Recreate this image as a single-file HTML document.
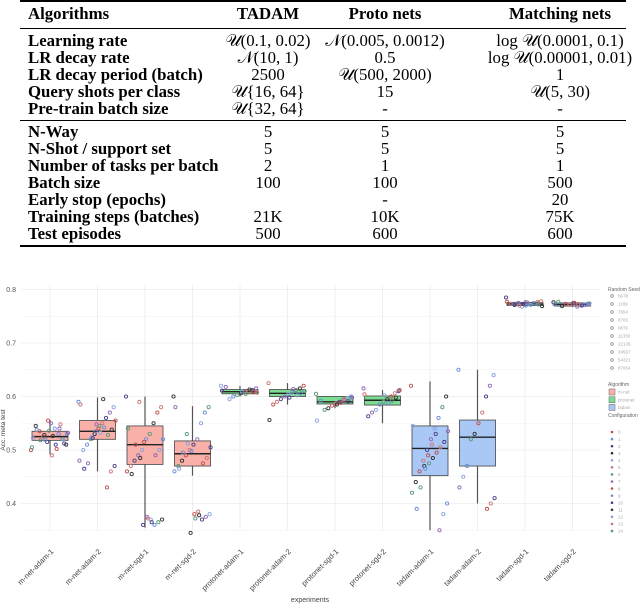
<!DOCTYPE html>
<html><head><meta charset="utf-8">
<style>
body{margin:0;width:640px;height:605px;background:#fff;position:relative;overflow:hidden;font-family:"Liberation Serif",serif}
.rule{position:absolute;left:20px;width:606px;background:#000}
.row{position:absolute;left:20px;width:606px;height:17px;font-size:16.8px;line-height:17px;color:#000}
.row span{position:absolute;white-space:nowrap}
.c0{left:8px;font-weight:bold}
.c1{left:248px;width:0;display:flex;justify-content:center}
.c2{left:365px;width:0;display:flex;justify-content:center}
.c3{left:540px;width:0;display:flex;justify-content:center}
.hd span{font-weight:bold}
svg{position:absolute;left:0;top:250px}
</style></head><body>
<div>
<div class="rule" style="top:0;height:2px"></div>
<div class="rule" style="top:28px;height:1px"></div>
<div class="rule" style="top:120px;height:1px"></div>
<div class="rule" style="top:245px;height:2px"></div>
<div class="row hd" style="top:5px"><span class="c0">Algorithms</span><span class="c1"><b>TADAM</b></span><span class="c2"><b>Proto nets</b></span><span class="c3"><b>Matching nets</b></span></div>
<div class="row" style="top:32px"><span class="c0">Learning rate</span><span class="c1">𝒰(0.1, 0.02)</span><span class="c2">𝒩(0.005, 0.0012)</span><span class="c3">log 𝒰(0.0001, 0.1)</span></div>
<div class="row" style="top:49px"><span class="c0">LR decay rate</span><span class="c1">𝒩(10, 1)</span><span class="c2">0.5</span><span class="c3">log 𝒰(0.00001, 0.01)</span></div>
<div class="row" style="top:66px"><span class="c0">LR decay period (batch)</span><span class="c1">2500</span><span class="c2">𝒰(500, 2000)</span><span class="c3">1</span></div>
<div class="row" style="top:83px"><span class="c0">Query shots per class</span><span class="c1">𝒰{16, 64}</span><span class="c2">15</span><span class="c3">𝒰(5, 30)</span></div>
<div class="row" style="top:100px"><span class="c0">Pre-train batch size</span><span class="c1">𝒰{32, 64}</span><span class="c2">-</span><span class="c3">-</span></div>
<div class="row" style="top:123px"><span class="c0">N-Way</span><span class="c1">5</span><span class="c2">5</span><span class="c3">5</span></div>
<div class="row" style="top:140px"><span class="c0">N-Shot / support set</span><span class="c1">5</span><span class="c2">5</span><span class="c3">5</span></div>
<div class="row" style="top:157px"><span class="c0">Number of tasks per batch</span><span class="c1">2</span><span class="c2">1</span><span class="c3">1</span></div>
<div class="row" style="top:174px"><span class="c0">Batch size</span><span class="c1">100</span><span class="c2">100</span><span class="c3">500</span></div>
<div class="row" style="top:191px"><span class="c0">Early stop (epochs)</span><span class="c1"></span><span class="c2">-</span><span class="c3">20</span></div>
<div class="row" style="top:208px"><span class="c0">Training steps (batches)</span><span class="c1">21K</span><span class="c2">10K</span><span class="c3">75K</span></div>
<div class="row" style="top:225px"><span class="c0">Test episodes</span><span class="c1">500</span><span class="c2">600</span><span class="c3">600</span></div>
</div>
<svg id="chart" width="640" height="355" viewBox="0 0 640 355" font-family="Liberation Sans, sans-serif"></svg>
<script>
const categories=["m-net-adam-1","m-net-adam-2","m-net-sgd-1","m-net-sgd-2","protonet-adam-1","protonet-adam-2","protonet-sgd-1","protonet-sgd-2","tadam-adam-1","tadam-adam-2","tadam-sgd-1","tadam-sgd-2"];
const algorithms=["m-net","m-net","m-net","m-net","protonet","protonet","protonet","protonet","tadam","tadam","tadam","tadam"];
const q1=[0.518,0.520,0.473,0.470,0.605,0.600,0.586,0.584,0.452,0.470,0.770,0.769];
const medians=[0.525,0.535,0.510,0.493,0.609,0.606,0.590,0.593,0.503,0.524,0.773,0.772];
const q3=[0.535,0.555,0.545,0.517,0.613,0.613,0.600,0.601,0.545,0.556,0.776,0.775];
const whiskLo=[0.492,0.460,0.355,0.452,0.600,0.585,0.578,0.550,0.350,0.400,0.768,0.767];
const whiskHi=[0.556,0.598,0.600,0.582,0.620,0.625,0.600,0.612,0.628,0.650,0.780,0.778];
const points=[
[0.50,0.51,0.52,0.53,0.54,0.55,0.515,0.525,0.535,0.545,0.505,0.53,0.52,0.54,0.51,0.49,0.555,0.528,0.518,0.538,0.522,0.532,0.512,0.548,0.502,0.526,0.536,0.519],
[0.59,0.58,0.57,0.56,0.55,0.54,0.53,0.52,0.51,0.50,0.48,0.47,0.46,0.43,0.595,0.545,0.535,0.525,0.475,0.465,0.585,0.555,0.538,0.528,0.542,0.532,0.548,0.522],
[0.60,0.58,0.57,0.55,0.53,0.52,0.50,0.49,0.48,0.47,0.46,0.37,0.365,0.36,0.37,0.375,0.36,0.59,0.51,0.455,0.54,0.52,0.50,0.49,0.365,0.372,0.515,0.485],
[0.60,0.58,0.57,0.55,0.52,0.51,0.50,0.49,0.48,0.47,0.46,0.38,0.375,0.37,0.385,0.38,0.345,0.53,0.495,0.465,0.58,0.505,0.485,0.475,0.378,0.372,0.498,0.512],
[0.620,0.615,0.612,0.610,0.608,0.606,0.603,0.600,0.595,0.618,0.611,0.607,0.609,0.613,0.605,0.61],
[0.625,0.620,0.615,0.612,0.608,0.604,0.600,0.595,0.590,0.585,0.556,0.610,0.606,0.602,0.614,0.598],
[0.605,0.600,0.597,0.594,0.590,0.587,0.583,0.578,0.575,0.592,0.555,0.598,0.591,0.595,0.588,0.585],
[0.615,0.610,0.606,0.600,0.595,0.590,0.585,0.575,0.570,0.563,0.604,0.612,0.598,0.592,0.588,0.602],
[0.62,0.60,0.58,0.56,0.54,0.52,0.50,0.48,0.46,0.44,0.42,0.40,0.38,0.35,0.53,0.51,0.49,0.47,0.43,0.39,0.545,0.535,0.515,0.505,0.495,0.485,0.475,0.465],
[0.65,0.64,0.62,0.60,0.57,0.55,0.53,0.52,0.47,0.45,0.43,0.41,0.40,0.39],
[0.785,0.778,0.776,0.774,0.772,0.770,0.768,0.775,0.771,0.773,0.777,0.769,0.772,0.774,0.771,0.776,0.773,0.770],
[0.776,0.774,0.772,0.770,0.768,0.775,0.771,0.773,0.769,0.777,0.772,0.774,0.771,0.770,0.773,0.775]
];
const yTicks=[0.4,0.5,0.6,0.7,0.8];
const seedLabels=["5678","1189","7654","8765","9876","11339","22136","34567","54321","87654"];
const configLabels=["0","1","2","3","4","5","6","7","8","9","10","11","12","13","14"];
const algoLabels=["m-net","protonet","tadam"];
</script>
<script>
const svg=document.getElementById('chart');
const NS='http://www.w3.org/2000/svg';
const X0=21,X1=600,Y_T=35,Y_B=280;
function xPos(i){return 50+47.5*i;}
function yPos(v){return 200+(0.5-v)*535;}
function mk(tag,attrs,parent){const e=document.createElementNS(NS,tag);for(const k in attrs)e.setAttribute(k,attrs[k]);(parent||svg).appendChild(e);return e;}
const fills={"m-net":"#f8b0a8","protonet":"#7ddc93","tadam":"#aac8f6"};
const ptCols=["#c0504d","#6a8fd8","#4a3f8c","#333333","#8aa3e0","#c77","#5a9a7a","#9068b8"];
const grid=mk('g',{});


for(let v=0.35;v<=0.801;v+=0.05){const y=yPos(v);mk('line',{x1:X0,x2:X1,y1:y,y2:y,stroke:'#f1f1f1','stroke-width':Math.abs(Math.round(v*10)-v*10)<0.01?1:0.6},grid);}
categories.forEach((c,i)=>{mk('line',{x1:xPos(i),x2:xPos(i),y1:Y_T,y2:Y_B,stroke:'#ebebeb','stroke-width':0.8},grid);});
yTicks.forEach(v=>{const t=mk('text',{x:16,y:yPos(v)+2.5,'font-size':7,fill:'#555','text-anchor':'end'});t.textContent=v.toFixed(1);

});
const yt=mk('text',{transform:'translate(5,180) rotate(-90)','font-size':6.5,fill:'#444','text-anchor':'middle'});yt.textContent='Acc. meta test';


categories.forEach((c,i)=>{
 const g=mk('g',{});
 
 
 const x=xPos(i),w=36;
 mk('line',{x1:x,x2:x,y1:yPos(whiskLo[i]),y2:yPos(whiskHi[i]),stroke:'#555','stroke-width':1.2},g);
 mk('rect',{x:x-w/2,y:yPos(q3[i]),width:w,height:yPos(q1[i])-yPos(q3[i]),fill:fills[algorithms[i]],stroke:'#444','stroke-width':0.8},g);
 mk('line',{x1:x-w/2,x2:x+w/2,y1:yPos(medians[i]),y2:yPos(medians[i]),stroke:'#222','stroke-width':1.4},g);
 const lab=mk('text',{transform:`translate(${x+4},${302}) rotate(-45)`,'font-size':7.5,fill:'#444','text-anchor':'end'});lab.textContent=c;
 
 
});
categories.forEach((c,i)=>{
 const g=mk('g',{});
 
 
 points[i].forEach((v,j)=>{
  const off=((j*37)%41-20)*0.95;
  const col=ptCols[(j*3+i)%ptCols.length];
  const p=mk('circle',{cx:xPos(i)+off,cy:yPos(v),r:1.6,fill:'none',stroke:col,'stroke-width':0.9},g);
  
  
 });
});
const xt=mk('text',{x:310,y:352,'font-size':7,fill:'#444','text-anchor':'middle'});xt.textContent='experiments';


const lg=mk('g',{});


function lt(x,y,s,sz,col){const t=mk('text',{x:x,y:y,'font-size':sz,fill:col},lg);t.textContent=s;return t;}
lt(608,41,'Random Seed',5,'#666');
seedLabels.forEach((s,k)=>{const y=46+k*8;mk('circle',{cx:612,cy:y,r:1.3,fill:'none',stroke:'#777','stroke-width':0.7},lg);const t=lt(618,y+1.7,s,4.5,'#aaa');

});
lt(608,136,'Algorithm',5,'#666');
algoLabels.forEach((s,k)=>{const y=142+k*7.7;mk('rect',{x:609,y:y-3,width:6,height:6,fill:fills[s],stroke:'#666','stroke-width':0.5},lg);const t=lt(618,y+1.7,s,4.5,'#aaa');

});
lt(608,167,'Configuration',5,'#666');
configLabels.forEach((s,k)=>{const y=182+k*7.07;mk('circle',{cx:612,cy:y,r:1.3,fill:ptCols[k%ptCols.length]},lg);const t=lt(618,y+1.7,s,4.5,'#aaa');

});
</script>
</body></html>
